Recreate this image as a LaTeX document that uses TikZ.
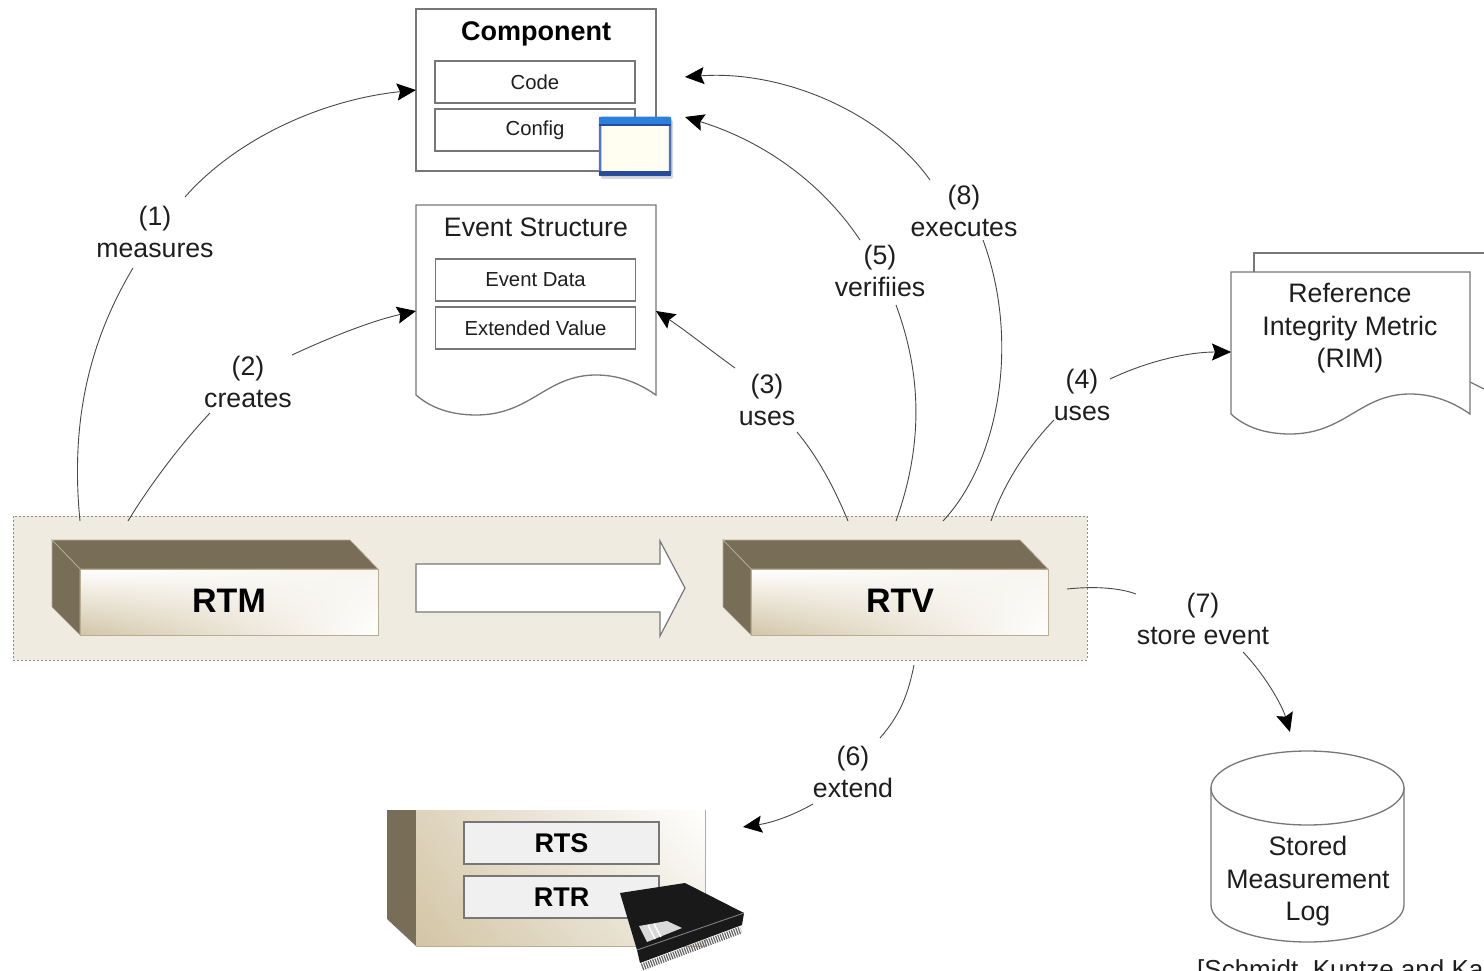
\documentclass[tikz,border=0pt]{standalone}
\usepackage{fontspec}
\setmainfont{Liberation Sans}
\usetikzlibrary{arrows.meta,shapes.geometric,shadings}
\definecolor{band}{HTML}{EFEBE0}
\definecolor{boxtop}{HTML}{786D57}
\definecolor{boxedge}{HTML}{B8AD92}
\definecolor{tan}{HTML}{D3C5A6}
\definecolor{linec}{HTML}{777777}
\definecolor{conn}{HTML}{484848}
\definecolor{txt}{HTML}{1E1E1E}
\definecolor{winblue}{HTML}{2A80DC}
\definecolor{winframe}{HTML}{4F74C4}
\definecolor{windark}{HTML}{274C9C}
\tikzset{
 x=1pt,y=-1pt,
 lbl/.style={font=\fontsize{26.7}{32.5}\selectfont,text=txt,align=center,inner sep=0pt},
 big/.style={font=\bfseries\fontsize{34}{40}\selectfont,text=black,inner sep=0pt},
 mid/.style={font=\bfseries\fontsize{27}{32}\selectfont,text=black,inner sep=0pt},
 docline/.style={draw=linec,line width=1.3pt,fill=white},
 inner/.style={draw=linec,line width=1.3pt,fill=white,inner sep=0pt,minimum width=200pt,minimum height=42pt,font=\fontsize{20.3}{26}\selectfont,text=txt},
 graybox/.style={draw=linec,line width=1.2pt,fill=black!6,inner sep=0pt,minimum width=195pt,minimum height=42pt,font=\bfseries\fontsize{27}{32}\selectfont,text=black},
 conline/.style={draw=conn,line width=0.9pt},
 conarrow/.style={conline,-{Stealth[length=19pt,width=17pt,inset=3pt,black]}},
 side/.style={fill=boxtop,draw=boxedge,line width=0.7pt},
 faceshade/.style={lower left=tan,upper left=white,upper right=band!50,lower right=white},
}
\begin{document}
\begin{tikzpicture}
\useasboundingbox (0,0) rectangle (1484,971);
\clip (0,0) rectangle (1484,971);
\fill[white] (0,0) rectangle (1484,971);

% trusted band
\path[fill=band,draw=black!45,line width=1pt,dash pattern=on 2pt off 2pt] (13,516) rectangle (1087,660);

% RTM
\path[side] (52,540) -- (350,540) -- (378,569) -- (80,569) -- cycle;
\path[side] (52,540) -- (80,569) -- (80,635) -- (52,607) -- cycle;
\shade[faceshade] (80,569) rectangle (378,635);
\draw[boxedge,line width=0.8pt] (80,569) rectangle (378,635);
\node[big] (rtm) at (229,601) {RTM};

% arrow RTM to RTV
\path[draw=linec,line width=1.2pt,fill=white] (416,564) -- (660,564) -- (660,541) -- (685,588) -- (660,636) -- (660,612) -- (416,612) -- cycle;

% RTV
\path[side] (723,540) -- (1020,540) -- (1048,569) -- (751,569) -- cycle;
\path[side] (723,540) -- (751,569) -- (751,635) -- (723,607) -- cycle;
\shade[faceshade] (751,569) rectangle (1048,635);
\draw[boxedge,line width=0.8pt] (751,569) rectangle (1048,635);
\node[big] (rtv) at (900,601) {RTV};

% Component
\path[docline] (416,9) rectangle (656,171);
\node[mid] (comp) at (536,33.5) {Component};
\node[inner] (code) at (535,82) {Code};
\node[inner] (config) at (535,130) {Config};
\path[fill=black!50,opacity=.3,rounded corners=2pt] (601,120) rectangle (673,179);
\path[fill=white!94!yellow,draw=winframe,line width=2.5pt,rounded corners=1.5pt] (600,118) rectangle (670,175);
\path[fill=winblue] (599,117) rectangle (671,124);
\path[fill=windark] (599,124) rectangle (671,126.5);
\path[fill=windark] (599,171) rectangle (671,176);

% Event structure
\path[docline] (416,205) -- (656,205) -- (656,395) .. controls (636,381) and (616,375) .. (596,375) .. controls (546,375) and (531,415) .. (476,415) .. controls (451,415) and (431,408) .. (416,395) -- cycle;
\node[lbl] (evt) at (536,227) {Event Structure};
\node[inner] (edata) at (535.5,280) {Event Data};
\node[inner] (eext) at (535.5,328) {Extended Value};

% RIM
\path[docline] (1254,272) -- (1254,253) -- (1490,253);
\draw[linec,line width=1.3pt] (1470,382) -- (1490,392);
\path[docline] (1231,272) -- (1470,272) -- (1470,414) .. controls (1450,400) and (1430,394) .. (1410,394) .. controls (1360,394) and (1345,434) .. (1290,434) .. controls (1265,434) and (1245,427) .. (1231,414) -- cycle;
\node[lbl] (rim) at (1350,328.5) {Reference\\Integrity Metric\\(RIM)};

% Stored log cylinder
\path[docline] (1211,788) -- (1211,905) arc[start angle=180,end angle=360,x radius=96.5,y radius=-37] -- (1404,788) -- cycle;
\path[docline] (1307.5,788) ellipse[x radius=96.5,y radius=37];
\node[lbl] (log) at (1308,881.5) {Stored\\Measurement\\Log};

% RTS / RTR
\path[fill=boxtop] (387,810) -- (416,810) -- (416,946) -- (387,919) -- cycle;
\shade[lower left=tan,upper left=tan!75!white,upper right=white,lower right=band] (416,810) rectangle (705,946);
\draw[boxedge,line width=0.8pt] (705,810) -- (705,946) -- (416,946);
\node[graybox] (rts) at (561.5,843) {RTS};
\node[graybox] (rtr) at (561.5,897) {RTR};

% chip
\draw[black!60,line width=7pt,dash pattern=on 1.2pt off 1.2pt] (642,967) -- (741,930);
\path[fill=black!90] (620,893) -- (685,883) -- (744,913) -- (742,925) -- (640,963) -- (637,950) -- cycle;
\draw[black!50,line width=0.9pt] (637,950) -- (744,913);
\path[fill=black!15] (639,926) -- (667,921) -- (682,928) -- (647,942) -- cycle;
\draw[white,line width=1.5pt] (648,925) -- (655,939) (654,924) -- (661,937);

% labels
\node[lbl] (l1) at (155,232) {(1)\\measures};
\node[lbl] (l2) at (248,382) {(2)\\creates};
\node[lbl] (l3) at (767,400) {(3)\\uses};
\node[lbl] (l4) at (1082,395) {(4)\\uses};
\node[lbl] (l5) at (880,271) {(5)\\verifiies};
\node[lbl] (l6) at (853,772) {(6)\\extend};
\node[lbl] (l7) at (1203,619) {(7)\\store event};
\node[lbl] (l8) at (964,211) {(8)\\executes};
\node[anchor=base west,inner sep=0pt,font=\fontsize{26}{30}\selectfont,text=txt] (cite) at (1197,978) {[Schmidt, Kuntze and Ka};

% anchor points
\coordinate (p1a) at (80,521);
\coordinate (p1b) at (133,268);
\coordinate (p1c) at (185,197);
\coordinate (t1) at (416,90);
\coordinate (p2a) at (128,521);
\coordinate (p2b) at (210,413);
\coordinate (p2c) at (292,355);
\coordinate (t2) at (416,311);
\coordinate (p3a) at (848,521);
\coordinate (p3b) at (797,432);
\coordinate (p3c) at (735,368);
\coordinate (t3) at (656,311);
\coordinate (p4a) at (991,521);
\coordinate (p4b) at (1054,420);
\coordinate (p4c) at (1110,379);
\coordinate (t4) at (1231,352);
\coordinate (p5a) at (896,521);
\coordinate (p5b) at (896,305);
\coordinate (p5c) at (860,240);
\coordinate (t5) at (685,117);
\coordinate (p8a) at (943,521);
\coordinate (p8b) at (983,240);
\coordinate (p8c) at (930,180);
\coordinate (t8) at (685,77);
\coordinate (p6a) at (914,665);
\coordinate (p6b) at (880,738);
\coordinate (p6c) at (813,804);
\coordinate (t6) at (743,827);
\coordinate (p7a) at (1067,589);
\coordinate (p7b) at (1136,594);
\coordinate (p7c) at (1243,652);
\coordinate (t7) at (1290,732);

% connectors
\draw[conline] (p1a) .. controls (70,420) and (90,340) .. (p1b);
\draw[conarrow] (p1c) .. controls (235,140) and (320,100) .. (t1);
\draw[conline] (p2a) .. controls (150,485) and (180,445) .. (p2b);
\draw[conarrow] (p2c) .. controls (335,335) and (375,320) .. (t2);
\draw[conline] (p3a) .. controls (835,490) and (820,460) .. (p3b);
\draw[conarrow] (p3c) .. controls (710,350) and (685,330) .. (t3);
\draw[conline] (p4a) .. controls (1005,480) and (1030,445) .. (p4b);
\draw[conarrow] (p4c) .. controls (1150,360) and (1190,352) .. (t4);
\draw[conline] (p5a) .. controls (925,440) and (920,370) .. (p5b);
\draw[conarrow] (p5c) .. controls (820,180) and (760,140) .. (t5);
\draw[conline] (p8a) .. controls (1000,460) and (1020,340) .. (p8b);
\draw[conarrow] (p8c) .. controls (880,110) and (780,70) .. (t8);
\draw[conline] (p6a) .. controls (908,695) and (900,715) .. (p6b);
\draw[conarrow] (p6c) .. controls (790,817) and (770,823) .. (t6);
\draw[conline] (p7a) .. controls (1095,586) and (1120,588) .. (p7b);
\draw[conarrow] (p7c) .. controls (1265,675) and (1282,705) .. (t7);
\end{tikzpicture}
\end{document}
